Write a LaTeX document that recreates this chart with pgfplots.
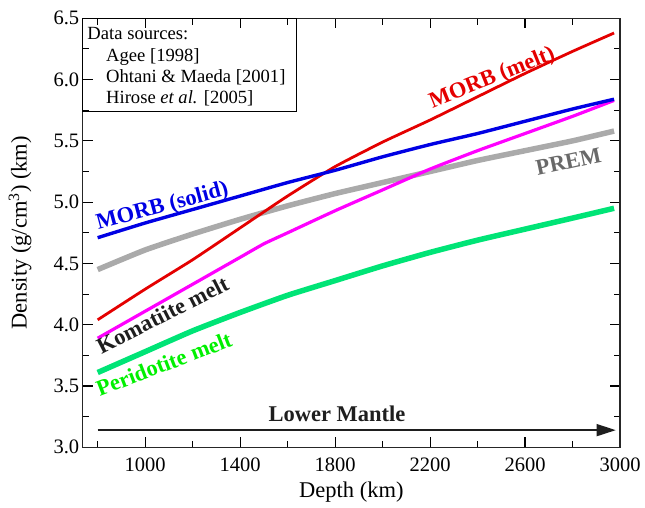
\documentclass[border=0pt]{standalone}
\usepackage{fontspec}
\setmainfont{Liberation Serif}
\usepackage{pgfplots}
\pgfplotsset{compat=1.18}
\usetikzlibrary{arrows.meta}

\definecolor{cred}{RGB}{228,0,0}
\definecolor{cblue}{RGB}{0,0,228}
\definecolor{cmag}{RGB}{255,0,255}
\definecolor{cgray}{RGB}{170,170,170}
\definecolor{cgreen}{RGB}{0,228,118}
\definecolor{lgreen}{RGB}{0,240,0}
\definecolor{lgray}{RGB}{105,105,105}
\definecolor{lblack}{RGB}{30,30,30}

\begin{document}
\begin{tikzpicture}
\path[use as bounding box] (-82.7pt,-59.7pt) rectangle (562.3pt,447.3pt);
\begin{axis}[
  scale only axis, width=537.3pt, height=429pt,
  xmin=737, xmax=3000, ymin=3.0, ymax=6.5,
  clip=false,
  xtick={1000,1400,...,3000}, minor xtick={800,1200,...,2800},
  ytick={3.0,3.5,...,6.5}, minor ytick={3.25,3.75,...,6.25},
  /pgf/number format/assume math mode=true,
  xticklabel style={/pgf/number format/1000 sep={}, anchor=base, yshift=-24.4pt},
  yticklabel style={/pgf/number format/.cd, fixed, fixed zerofill, precision=1},
  ticklabel style={font=\fontsize{20.5}{24}\selectfont},
  tick align=inside, major tick length=10pt, minor tick length=6.5pt,
  tick style={black, line width=1.1pt},
  axis line style={black!85, line width=1.3pt},
  every axis plot/.append style={smooth, tension=0.3, line join=round},
]
\addplot[cgray, line width=5.5pt] coordinates {
(800,4.45) (1000,4.61) (1200,4.74) (1400,4.86) (1600,4.97) (1800,5.07)
(2000,5.16) (2200,5.25) (2400,5.34) (2600,5.42) (2800,5.50) (2975,5.58)};
\addplot[cgreen, line width=5.5pt] coordinates {
(800,3.61) (1000,3.78) (1200,3.95) (1400,4.10) (1600,4.24) (1800,4.36)
(2000,4.48) (2200,4.59) (2400,4.69) (2600,4.78) (2800,4.87) (2975,4.95)};
\addplot[cmag, line width=3.2pt] coordinates {
(800,3.89) (1000,4.11) (1200,4.33) (1400,4.55) (1500,4.66) (1600,4.75) (1800,4.93)
(2000,5.10) (2200,5.27) (2400,5.42) (2600,5.56) (2800,5.70) (2975,5.83)};
\addplot[cred, line width=2.8pt] coordinates {
(800,4.04) (1000,4.29) (1200,4.53) (1400,4.79) (1600,5.05) (1800,5.29)
(2000,5.49) (2200,5.67) (2400,5.86) (2600,6.05) (2800,6.23) (2975,6.38)};
\addplot[cblue, line width=3.4pt] coordinates {
(800,4.71) (1000,4.83) (1200,4.94) (1400,5.05) (1600,5.16) (1800,5.26)
(2000,5.37) (2200,5.47) (2400,5.56) (2600,5.66) (2800,5.76) (2975,5.84)};

% legend box
\draw[line width=0.9pt, black] (rel axis cs:0,1) rectangle (axis cs:1636,5.74);
\begin{scope}[every node/.style={anchor=base west, inner sep=0pt, font=\fontsize{18.6}{21.5}\selectfont}]
\node at ([xshift=4.6pt, yshift=-21pt]rel axis cs:0,1) {Data sources:};
\node at ([xshift=23.3pt, yshift=-42.7pt]rel axis cs:0,1) {Agee [1998]};
\node at ([xshift=23.3pt, yshift=-64pt]rel axis cs:0,1) {Ohtani \& Maeda [2001]};
\node at ([xshift=23.3pt, yshift=-85pt]rel axis cs:0,1) {Hirose \textit{et al.} [2005]};
\end{scope}

% curve labels
\begin{scope}[every node/.style={font=\bfseries\fontsize{22.5}{26}\selectfont, inner sep=0pt}]
\node[rotate=15, text=cblue] at (axis cs:1073,4.96) {MORB (solid)};
\node[rotate=22, text=cred] at (axis cs:2462,6.01) {MORB (melt)};
\node[rotate=12, text=lgray] at (axis cs:2783,5.33) {PREM};
\node[rotate=27, text=lblack] at (axis cs:1073,4.08) {Komatiite melt};
\node[rotate=21, text=lgreen] at (axis cs:1079,3.68) {Peridotite melt};
\node[text=lblack] at (axis cs:1808,3.27) {Lower Mantle};
\end{scope}
\draw[-{Triangle[length=19pt,width=12pt]}, line width=1.3pt, lblack] (axis cs:800,3.14) -- (axis cs:2982,3.14);

% axis labels
\node[anchor=base, inner sep=0pt, font=\fontsize{22.5}{26}\selectfont] at ([yshift=-50pt]rel axis cs:0.5,0) {Depth (km)};
\node[rotate=90, anchor=base, inner sep=0pt, font=\fontsize{22.5}{26}\selectfont] at ([xshift=-56pt]rel axis cs:0,0.5) {Density (g/cm\textsuperscript{3}) (km)};
\end{axis}
\end{tikzpicture}
\end{document}
